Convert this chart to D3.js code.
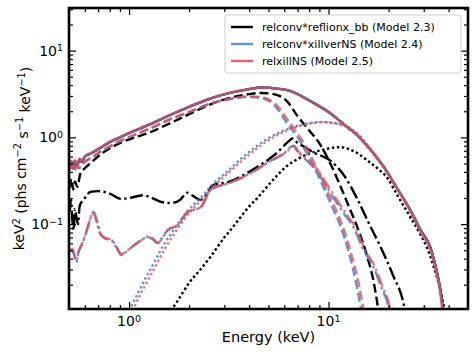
<!DOCTYPE html>
<html>
<head>
<meta charset="utf-8">
<script src="https://cdn.jsdelivr.net/npm/d3@7"></script>
<style>
  body { margin: 0; background: #fff; }
  svg { font-family: "DejaVu Sans", sans-serif; }
</style>
</head>
<body>
<svg class="chart"></svg>
<script>
// keV^2 spectra of the three model fits as [energy keV, value]

let width = 476, height = 357;
let margin = { top: 8, right: 8, bottom: 48, left: 69 };
let w = width - margin.left - margin.right;
let h = height - margin.top - margin.bottom;

// tick values
let xMajor = [1, 10];
let xMinor = [0.6, 0.7, 0.8, 0.9, 2, 3, 4, 5, 6, 7, 8, 9, 20, 30, 40];
let yMajor = [0.1, 1, 10];
let yMinor = [0.02, 0.03, 0.04, 0.05, 0.06, 0.07, 0.08, 0.09, 0.2, 0.3, 0.4, 0.5, 0.6, 0.7, 0.8, 0.9,
  2, 3, 4, 5, 6, 7, 8, 9, 20, 30];

let legendLabels = ["relconv*reflionx_bb (Model 2.3)", "relconv*xillverNS (Model 2.4)", "relxillNS (Model 2.5)"];

// Model 2.3 (black)
let total23 = [[0.505, 0.46], [0.515, 0.52], [0.525, 0.44], [0.535, 0.53], [0.55, 0.47], [0.565, 0.56], [0.58, 0.52],
  [0.6, 0.6], [0.65, 0.66], [0.72, 0.76], [0.8, 0.88], [0.9, 1.0], [1.0, 1.12], [1.28, 1.42], [1.6, 1.8], [2.0, 2.25],
  [2.5, 2.75], [3.2, 3.25], [4.0, 3.6], [4.6, 3.75], [5.5, 3.65], [6.5, 3.4], [7.2, 3.05], [8.4, 2.5], [10.2, 1.9],
  [12, 1.4], [14, 1.05], [16, 0.75], [19, 0.45], [22, 0.26], [25.7, 0.145], [29, 0.085], [32.4, 0.054], [34.5, 0.032],
  [36.3, 0.018], [37.6, 0.01]];
let disk23 = [[0.505, 0.26], [0.515, 0.33], [0.525, 0.25], [0.535, 0.31], [0.55, 0.27], [0.57, 0.38], [0.6, 0.44],
  [0.65, 0.52], [0.75, 0.68], [0.9, 0.86], [1.1, 1.02], [1.28, 1.15], [1.6, 1.45], [2.0, 1.85], [2.5, 2.35], [3.2, 2.85],
  [4.0, 3.15], [4.6, 3.25], [5.3, 3.15], [6.2, 2.6], [7.0, 1.75], [8.0, 1.2], [9.1, 0.82], [10.2, 0.5], [11.5, 0.27],
  [12.7, 0.155], [14, 0.09], [15.5, 0.045], [16.8, 0.022], [17.8, 0.01]];
let refl23 = [[0.505, 0.14], [0.512, 0.19], [0.52, 0.11], [0.528, 0.085], [0.535, 0.15], [0.545, 0.12], [0.555, 0.1],
  [0.565, 0.16], [0.6, 0.2], [0.64, 0.235], [0.7, 0.24], [0.8, 0.225], [0.91, 0.195], [1.0, 0.2], [1.18, 0.215],
  [1.3, 0.2], [1.45, 0.18], [1.62, 0.175], [1.8, 0.19], [1.96, 0.23], [2.1, 0.21], [2.28, 0.19], [2.45, 0.22],
  [2.62, 0.28], [3.2, 0.31], [4.0, 0.4], [4.55, 0.48], [5.5, 0.66], [6.3, 0.9], [6.6, 0.97], [7.0, 0.86], [7.4, 0.8],
  [8.4, 0.67], [10.2, 0.54], [12, 0.36], [14, 0.19], [16, 0.1], [18.2, 0.055], [21, 0.026], [23.7, 0.0125], [24.2, 0.01]];
let bb23 = [[1.62, 0.01], [1.75, 0.013], [2.0, 0.021], [2.28, 0.03], [2.56, 0.042], [3.0, 0.07], [3.22, 0.085],
  [3.62, 0.12], [4.0, 0.16], [4.4, 0.2], [4.71, 0.24], [5.5, 0.36], [6.2, 0.47], [6.98, 0.56], [8.0, 0.65], [9.4, 0.72],
  [10.5, 0.76], [11.5, 0.77], [12.7, 0.73], [13.9, 0.66], [16, 0.52], [18, 0.42], [19.7, 0.34], [22, 0.22],
  [25.7, 0.12], [28.5, 0.08], [31.3, 0.052], [34, 0.03], [36, 0.019], [38.3, 0.01]];

// Model 2.4 (blue)
let total24 = [[0.505, 0.47], [0.515, 0.53], [0.525, 0.45], [0.535, 0.54], [0.55, 0.48], [0.565, 0.56], [0.58, 0.53],
  [0.6, 0.6], [0.65, 0.66], [0.72, 0.76], [0.8, 0.88], [0.9, 1.0], [1.0, 1.12], [1.28, 1.42], [1.6, 1.8], [2.0, 2.25],
  [2.5, 2.75], [3.2, 3.25], [4.0, 3.6], [4.6, 3.75], [5.5, 3.65], [6.5, 3.4], [7.2, 3.05], [8.4, 2.5], [10.2, 1.9],
  [12, 1.4], [14, 1.05], [16, 0.75], [19, 0.45], [22, 0.26], [25.7, 0.145], [29, 0.084], [32.4, 0.053], [34.5, 0.031],
  [36.3, 0.017], [37.4, 0.01]];
let disk24 = [[0.505, 0.42], [0.52, 0.47], [0.53, 0.4], [0.545, 0.46], [0.56, 0.44], [0.6, 0.52], [0.65, 0.58],
  [0.72, 0.68], [0.8, 0.78], [0.9, 0.9], [1.0, 1.0], [1.28, 1.27], [1.6, 1.6], [2.0, 1.95], [2.5, 2.4], [3.2, 2.75],
  [4.0, 2.92], [4.6, 2.85], [5.3, 2.4], [6.2, 1.45], [7.0, 1.0], [7.8, 0.65], [8.6, 0.42], [9.4, 0.27], [10.4, 0.16],
  [11.5, 0.093], [12.7, 0.045], [13.8, 0.02], [14.6, 0.01]];
let refl24 = [[0.505, 0.048], [0.52, 0.05], [0.535, 0.04], [0.545, 0.036], [0.555, 0.045], [0.58, 0.058], [0.61, 0.08],
  [0.64, 0.115], [0.66, 0.137], [0.685, 0.11], [0.72, 0.075], [0.76, 0.068], [0.81, 0.066], [0.86, 0.055],
  [0.91, 0.044], [0.97, 0.048], [1.05, 0.056], [1.15, 0.065], [1.24, 0.071], [1.32, 0.066], [1.39, 0.06],
  [1.48, 0.072], [1.56, 0.085], [1.75, 0.097], [1.96, 0.137], [2.28, 0.156], [2.56, 0.25], [3.2, 0.3], [4.0, 0.38],
  [5.0, 0.52], [6.0, 0.66], [6.66, 0.8], [7.0, 0.68], [7.4, 0.6], [8.4, 0.45], [9.5, 0.3], [10.6, 0.2], [12, 0.13],
  [13.3, 0.093], [15, 0.05], [16.8, 0.032], [18.5, 0.018], [19.7, 0.0125], [20.1, 0.01]];
let bb24 = [[1.0, 0.01], [1.1, 0.0155], [1.2, 0.023], [1.3, 0.032], [1.44, 0.05], [1.7, 0.09], [1.96, 0.14],
  [2.28, 0.2], [2.56, 0.27], [3.2, 0.43], [3.62, 0.56], [4.2, 0.74], [4.71, 0.9], [5.5, 1.1], [6.98, 1.36], [8.0, 1.46],
  [9.1, 1.5], [10.5, 1.46], [12.4, 1.3], [14, 1.05], [16.2, 0.71], [18.2, 0.5], [20.4, 0.34], [23, 0.22], [25.7, 0.14],
  [29, 0.08], [32.4, 0.05], [34.5, 0.03], [36.3, 0.017], [37.4, 0.01]];

// Model 2.5 (red)
let total25 = [[0.505, 0.48], [0.515, 0.54], [0.525, 0.46], [0.535, 0.55], [0.55, 0.49], [0.565, 0.57], [0.58, 0.53],
  [0.6, 0.61], [0.65, 0.67], [0.72, 0.77], [0.8, 0.89], [0.9, 1.01], [1.0, 1.13], [1.28, 1.43], [1.6, 1.81],
  [2.0, 2.26], [2.5, 2.76], [3.2, 3.26], [4.0, 3.61], [4.6, 3.76], [5.5, 3.66], [6.5, 3.41], [7.2, 3.06], [8.4, 2.5],
  [10.2, 1.9], [12, 1.4], [14, 1.05], [16, 0.75], [19, 0.45], [22, 0.26], [25.7, 0.144], [29, 0.083], [32.4, 0.052],
  [34.5, 0.03], [36.3, 0.016], [37.2, 0.01]];
let disk25 = [[0.505, 0.43], [0.52, 0.48], [0.53, 0.41], [0.545, 0.47], [0.56, 0.45], [0.6, 0.53], [0.65, 0.59],
  [0.72, 0.69], [0.8, 0.79], [0.9, 0.91], [1.0, 1.01], [1.28, 1.28], [1.6, 1.62], [2.0, 1.97], [2.5, 2.42], [3.2, 2.78],
  [4.0, 2.97], [4.7, 2.88], [5.4, 2.45], [6.35, 1.5], [7.15, 1.03], [8.0, 0.66], [8.8, 0.43], [9.65, 0.27],
  [10.7, 0.16], [11.8, 0.093], [13.0, 0.045], [14.2, 0.02], [15.0, 0.01]];
let refl25 = [[0.505, 0.05], [0.52, 0.052], [0.535, 0.042], [0.545, 0.038], [0.555, 0.046], [0.58, 0.059],
  [0.61, 0.081], [0.64, 0.117], [0.665, 0.139], [0.69, 0.11], [0.725, 0.076], [0.765, 0.069], [0.815, 0.066],
  [0.865, 0.055], [0.915, 0.045], [0.975, 0.049], [1.06, 0.057], [1.16, 0.066], [1.25, 0.072], [1.33, 0.067],
  [1.4, 0.061], [1.49, 0.073], [1.57, 0.086], [1.76, 0.098], [1.97, 0.138], [2.3, 0.157], [2.58, 0.25], [3.22, 0.3],
  [4.02, 0.38], [5.02, 0.52], [6.05, 0.66], [6.72, 0.79], [7.05, 0.69], [7.5, 0.6], [8.6, 0.45], [9.7, 0.3],
  [10.85, 0.2], [12.3, 0.13], [13.6, 0.093], [15.3, 0.05], [17.1, 0.032], [18.8, 0.018], [20.0, 0.0125], [20.4, 0.01]];
let bb25 = [[1.04, 0.01], [1.14, 0.0155], [1.25, 0.023], [1.35, 0.032], [1.5, 0.05], [1.76, 0.09], [2.03, 0.14],
  [2.36, 0.2], [2.65, 0.27], [3.3, 0.43], [3.75, 0.56], [4.35, 0.74], [4.9, 0.9], [5.7, 1.1], [7.2, 1.36], [8.3, 1.46],
  [9.4, 1.5], [10.8, 1.46], [12.7, 1.3], [14.3, 1.05], [16.4, 0.72], [18.4, 0.5], [20.5, 0.34], [23.1, 0.22],
  [25.7, 0.14], [29, 0.08], [32.4, 0.05], [34.5, 0.03], [36.3, 0.017], [37.3, 0.01]];

let black = "#000000", blue = "#3f85cc", red = "#ec4654";
let dashed = "9,4", dashdot = "13,3.5,2.4,3.5", dotted = "2.4,2.6";

// draw order: black, blue, red on top
let series = [
  { data: total23, color: black, dash: null, op: 1 },
  { data: disk23, color: black, dash: dashed, op: 1 },
  { data: refl23, color: black, dash: dashdot, op: 1 },
  { data: bb23, color: black, dash: dotted, op: 1 },
  { data: total24, color: blue, dash: null, op: 0.85 },
  { data: disk24, color: blue, dash: dashed, op: 0.85 },
  { data: refl24, color: blue, dash: dashdot, op: 0.85 },
  { data: bb24, color: blue, dash: dotted, op: 0.85 },
  { data: total25, color: red, dash: null, op: 0.6 },
  { data: disk25, color: red, dash: dashed, op: 0.78 },
  { data: refl25, color: red, dash: dashdot, op: 0.78 },
  { data: bb25, color: red, dash: dotted, op: 0.78 }
];

let x = d3.scaleLog().domain([0.5, 50]).range([0, w]);
let y = d3.scaleLog().domain([0.0105, 31]).range([h, 0]);

let svg = d3.select(".chart")
  .attr("width", width)
  .attr("height", height);

let chart = svg.append("g")
  .attr("transform", "translate(" + margin.left + "," + margin.top + ")");

chart.append("clipPath").attr("id", "clip")
  .append("rect").attr("width", w).attr("height", h);

let line = d3.line()
  .x(d => x(d[0]))
  .y(d => y(d[1]))
  .curve(d3.curveMonotoneX);

chart.append("g").attr("clip-path", "url(#clip)")
  .selectAll("path")
  .data(series)
  .enter().append("path")
  .attr("d", d => line(d.data))
  .attr("fill", "none")
  .attr("stroke", d => d.color)
  .attr("stroke-opacity", d => d.op)
  .attr("stroke-width", 2.4)
  .attr("stroke-dasharray", d => d.dash);

// ticks, all pointing inward
function ticks(axis, vals, size) {
  return axis.tickValues(vals).tickSizeInner(-size).tickSizeOuter(0).tickFormat("");
}
let tickGroups = [
  chart.append("g").attr("transform", "translate(0," + h + ")").call(ticks(d3.axisBottom(x), xMajor, 7)),
  chart.append("g").attr("transform", "translate(0," + h + ")").call(ticks(d3.axisBottom(x), xMinor, 4)),
  chart.append("g").call(ticks(d3.axisTop(x), xMajor, 7)),
  chart.append("g").call(ticks(d3.axisTop(x), xMinor, 4)),
  chart.append("g").call(ticks(d3.axisLeft(y), yMajor, 7)),
  chart.append("g").call(ticks(d3.axisLeft(y), yMinor, 4)),
  chart.append("g").attr("transform", "translate(" + w + ",0)").call(ticks(d3.axisRight(y), yMajor, 7)),
  chart.append("g").attr("transform", "translate(" + w + ",0)").call(ticks(d3.axisRight(y), yMinor, 4))
];
tickGroups.forEach(g => {
  g.select(".domain").remove();
  g.selectAll(".tick line").attr("stroke", "#000").attr("stroke-width", 1.2);
});

// power-of-ten labels
function powLabel(sel, v) {
  let e = Math.round(Math.log10(v));
  sel.append("tspan").text("10");
  sel.append("tspan").attr("dy", "-0.45em").style("font-size", "9.5px")
    .text(e < 0 ? "\u2212" + (-e) : e);
}

chart.append("g").selectAll("text")
  .data(xMajor).enter().append("text")
  .attr("x", d => x(d))
  .attr("y", h + 17)
  .attr("text-anchor", "middle")
  .style("font-size", "14px")
  .each(function (d) { powLabel(d3.select(this), d); });

chart.append("g").selectAll("text")
  .data(yMajor).enter().append("text")
  .attr("x", -6)
  .attr("y", d => y(d) + 5)
  .attr("text-anchor", "end")
  .style("font-size", "14px")
  .each(function (d) { powLabel(d3.select(this), d); });

// axis titles
chart.append("text")
  .attr("x", w / 2)
  .attr("y", h + 33)
  .attr("text-anchor", "middle")
  .style("font-size", "14.5px")
  .text("Energy (keV)");

let ylab = chart.append("text")
  .attr("transform", "translate(" + (19 - margin.left) + "," + (h / 2) + ") rotate(-90)")
  .attr("text-anchor", "middle")
  .attr("dy", "0.35em")
  .style("font-size", "14px");
let yParts = [["keV", 0], ["2", 1], [" (phs cm", 0], ["\u22122", 1], [" s", 0], ["\u22121", 1], [" keV", 0], ["\u22121", 1], [")", 0]];
let up = false;
yParts.forEach(p => {
  let t = ylab.append("tspan").text(p[0]);
  if (p[1] && !up) { t.attr("dy", "-0.45em").style("font-size", "9.8px"); up = true; }
  else if (p[1]) { t.style("font-size", "9.8px"); }
  else if (up) { t.attr("dy", "0.45em"); up = false; }
});

// legend
let legend = svg.append("g").attr("transform", "translate(225,15)");
legend.append("rect")
  .attr("width", 236).attr("height", 58)
  .attr("rx", 3)
  .attr("fill", "#fff").attr("fill-opacity", 0.8)
  .attr("stroke", "#d0d0d0");
let legendColors = [black, blue, red];
legendLabels.forEach((lab, i) => {
  let yy = 12 + i * 17;
  legend.append("line")
    .attr("x1", 6).attr("x2", 28).attr("y1", yy).attr("y2", yy)
    .attr("stroke", legendColors[i]).attr("stroke-width", 2.4)
    .attr("stroke-opacity", i == 0 ? 1 : 0.85);
  legend.append("text")
    .attr("x", 37).attr("y", yy).attr("dy", "0.35em")
    .style("font-size", "11px")
    .text(lab);
});

// frame
chart.append("rect")
  .attr("width", w).attr("height", h)
  .attr("fill", "none")
  .attr("stroke", "#000")
  .attr("stroke-width", 2.6);
</script>
</body>
</html>
